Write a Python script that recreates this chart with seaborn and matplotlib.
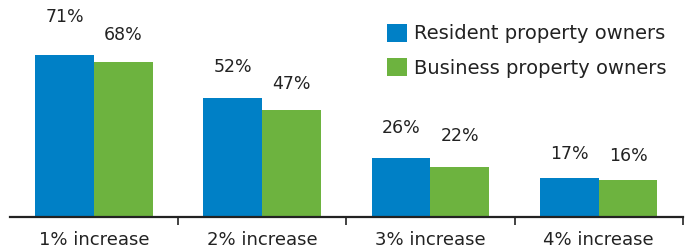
import numpy as np
import pandas as pd
import matplotlib
matplotlib.use("Agg")
import matplotlib.pyplot as plt
import seaborn as sns

# ---------------------------------------------------------------- data
categories = ["1% increase", "2% increase", "3% increase", "4% increase"]
series = ["Resident property owners", "Business property owners"]
resident = [71, 52, 26, 17]
business = [68, 47, 22, 16]
# label offsets above bar tops (points) -- the original staggers them by hand
label_pad = {series[0]: [21, 16, 15, 11], series[1]: [13, 12, 16, 11]}

colors = {series[0]: "#0080C6", series[1]: "#6DB33F"}
TEXT = "#222222"

df = pd.DataFrame({
    "category": categories * 2,
    "group": [series[0]] * 4 + [series[1]] * 4,
    "value": resident + business,
})

sns.set_theme(style="white")
plt.rcParams["font.family"] = ["DejaVu Sans"]

fig = plt.figure(figsize=(6.91, 2.49), dpi=100)
ax = fig.add_axes([0.0145, 0.1285, 0.9735, 0.8715])

sns.barplot(data=df, x="category", y="value", hue="group", hue_order=series,
            palette=colors, width=0.7, saturation=1, linewidth=0, ax=ax, legend=True)

for cont, name in zip(ax.containers, series):
    for bar, pad in zip(cont, label_pad[name]):
        ax.annotate(f"{bar.get_height():.0f}%",
                    (bar.get_x() + bar.get_width() / 2, bar.get_height()),
                    xytext=(0, pad), textcoords="offset points",
                    ha="center", va="bottom", fontsize=12.5, color=TEXT)

ax.set_xlim(-0.5, 3.5)
ax.set_ylim(0, 95)
ax.set_xlabel(""); ax.set_ylabel("")
ax.set_yticks([])
for s in ["top", "right", "left"]:
    ax.spines[s].set_visible(False)
ax.spines["bottom"].set_linewidth(1.6)
ax.spines["bottom"].set_color(TEXT)
ax.set_xticks([0.5, 1.5, 2.5, 3.5], minor=True)
ax.tick_params(axis="x", which="major", length=0, pad=10, labelsize=13, labelcolor=TEXT)
ax.tick_params(axis="x", which="minor", bottom=True, length=6, width=1.2, color=TEXT, direction="out")

leg = ax.legend(loc="upper left", bbox_to_anchor=(0.5595, 0.905), bbox_transform=fig.transFigure,
                frameon=False, fontsize=14, handlelength=1.05, handleheight=1.05,
                handletextpad=0.35, labelspacing=0.75, borderpad=0, borderaxespad=0)
for t in leg.get_texts():
    t.set_color(TEXT)

fig.savefig("out.png", dpi=100)
